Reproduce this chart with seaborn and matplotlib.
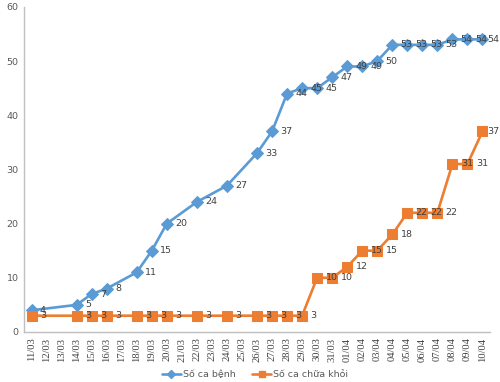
import matplotlib
matplotlib.use("Agg")
import matplotlib.pyplot as plt
import seaborn as sns
import pandas as pd
from matplotlib.lines import Line2D

# ---- data ----
dates = ['11/03', '12/03', '13/03', '14/03', '15/03', '16/03', '17/03', '18/03',
         '19/03', '20/03', '21/03', '22/03', '23/03', '24/03', '25/03', '26/03',
         '27/03', '28/03', '29/03', '30/03', '31/03', '01/04', '02/04', '03/04',
         '04/04', '05/04', '06/04', '07/04', '08/04', '09/04', '10/04']
obs_dates = ['11/03', '14/03', '15/03', '16/03', '18/03', '19/03', '20/03', '22/03',
             '24/03', '26/03', '27/03', '28/03', '29/03', '30/03', '31/03', '01/04',
             '02/04', '03/04', '04/04', '05/04', '06/04', '07/04', '08/04', '09/04',
             '10/04']
cases = [4, 5, 7, 8, 11, 15, 20, 24, 27, 33, 37, 44, 45, 45, 47, 49, 49, 50,
         53, 53, 53, 53, 54, 54, 54]
recovered = [3, 3, 3, 3, 3, 3, 3, 3, 3, 3, 3, 3, 3, 10, 10, 12, 15, 15, 18,
             22, 22, 22, 31, 31, 37]
series_names = ['Số ca bệnh', 'Số ca chữa khỏi']
yticks = [0, 10, 20, 30, 40, 50, 60]

# ---- styling ----
sns.set_theme(style="white")
plt.rcParams['font.family'] = ['DejaVu Sans']
blue = '#5B9BD5'
orange = '#ED7D31'
label_color = '#404040'

pos = [dates.index(d) for d in obs_dates]
df = pd.DataFrame({'pos': pos, 'cases': cases, 'recovered': recovered})

fig = plt.figure(figsize=(5.0, 3.82), dpi=100)
ax = fig.add_axes([0.048, 0.131, 0.932, 0.851])

sns.lineplot(data=df, x='pos', y='cases', ax=ax, color=blue, marker='D',
             markersize=6, linewidth=1.9, markeredgecolor=blue, sort=False, zorder=3)
sns.lineplot(data=df, x='pos', y='recovered', ax=ax, color=orange, marker='s',
             markersize=6.5, linewidth=1.9, markeredgecolor=orange, sort=False, zorder=3)

last = len(df) - 1
for i, (x, y) in enumerate(zip(df['pos'], df['cases'])):
    dx = 3.2 if i == last else 6
    ax.annotate(str(y), (x, y), xytext=(dx, 0), textcoords='offset points',
                ha='left', va='center', fontsize=6.8, color=label_color, zorder=5,
                annotation_clip=False)
for i, (x, y) in enumerate(zip(df['pos'], df['recovered'])):
    dx = 3.2 if i == last else 6
    ax.annotate(str(y), (x, y), xytext=(dx, 0), textcoords='offset points',
                ha='left', va='center', fontsize=6.8, color=label_color, zorder=5,
                annotation_clip=False)

ax.set_xlim(-0.5, len(dates) - 0.5)
ax.set_ylim(0, 60)
ax.set_xticks(range(len(dates)))
ax.set_xticklabels(dates, rotation=90, fontsize=7.6, color='#404040',
                   family='Liberation Serif')
ax.set_yticks(yticks)
ax.set_yticklabels([str(t) for t in yticks], fontsize=6.8, color='#595959')
ax.tick_params(axis='both', length=0, pad=4)
ax.set_xlabel('')
ax.set_ylabel('')
for s in ['top', 'right']:
    ax.spines[s].set_visible(False)
for s in ['left', 'bottom']:
    ax.spines[s].set_color('#BFBFBF')
    ax.spines[s].set_linewidth(1.0)

handles = [
    Line2D([0], [0], color=blue, marker='D', markersize=4, linewidth=1.9),
    Line2D([0], [0], color=orange, marker='s', markersize=4.5, linewidth=1.9),
]
fig.legend(handles, series_names, loc='lower center', bbox_to_anchor=(0.51, -0.015),
           ncol=2, frameon=False, fontsize=6.8, handlelength=2.0,
           handletextpad=0.2, columnspacing=1.8, labelcolor='#595959')

fig.savefig('out.png', dpi=100)
